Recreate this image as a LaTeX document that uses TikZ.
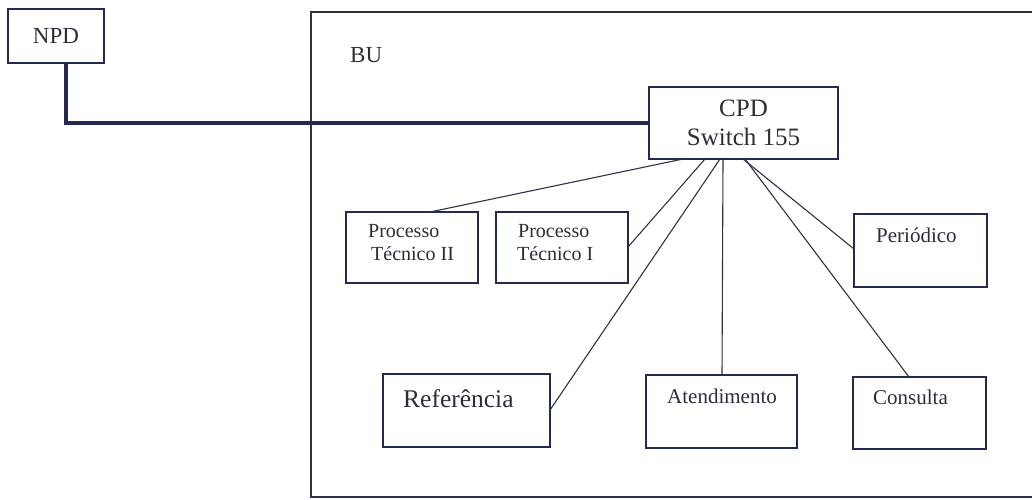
\documentclass[tikz,border=0pt]{standalone}
\usepackage{fontspec}
\setmainfont{Liberation Serif}
\usetikzlibrary{calc}
\definecolor{boxc}{RGB}{35,42,78}
\definecolor{linec}{RGB}{45,50,72}
\definecolor{txtc}{RGB}{45,45,58}
\newcommand\fsz[1]{\fontsize{#1}{#1}\selectfont}
\begin{document}
\begin{tikzpicture}[x=1pt,y=-1pt,
  box/.style={draw=boxc, line width=1.6pt, inner sep=0pt, outer sep=0pt, anchor=north west, text=txtc},
  txt/.style={inner sep=0pt, anchor=base west, text=txtc},
  link/.style={draw=linec, line width=1.1pt},
  trunk/.style={draw=boxc, line width=4.5pt}]
\useasboundingbox (0,0) rectangle (1032,499);
\begin{scope}
  \clip (0,0) rectangle (1032,499);
  \node[box, draw=linec, line width=1.4pt, minimum width=734pt, minimum height=485pt] (bu) at (311,12) {};
\end{scope}
\node[txt, font=\fsz{23}] (butxt) at (350,62) {BU};

\node[box, minimum width=96pt, minimum height=54pt, font=\fsz{23}] (npd) at (8,9) {NPD};
\node[box, minimum width=189pt, minimum height=72pt, align=center, font=\fontsize{25}{29}\selectfont] (cpd) at (649,87) {CPD\\Switch 155};

\node[box, minimum width=132pt, minimum height=71pt] (ptii) at (346,212) {};
\node[box, minimum width=132pt, minimum height=71pt] (pti) at (496,212) {};
\node[box, minimum width=133pt, minimum height=73pt] (per) at (854,214) {};
\node[box, minimum width=167pt, minimum height=73pt] (ref) at (383,374) {};
\node[box, minimum width=151pt, minimum height=73pt] (at) at (646,375) {};
\node[box, minimum width=133pt, minimum height=72pt] (con) at (853,377) {};

\node[txt, font=\fsz{20}] (ptiia) at (368,237) {Processo};
\node[txt, font=\fsz{20}] (ptiib) at (371,260) {Técnico II};
\node[txt, font=\fsz{20}] (ptia) at (518,237) {Processo};
\node[txt, font=\fsz{20}] (ptib) at (517,260) {Técnico I};
\node[txt, font=\fsz{21}] (pertxt) at (876,242) {Periódico};
\node[txt, font=\fsz{25.5}] (reftxt) at (403,407) {Referência};
\node[txt, font=\fsz{21}] (attxt) at (667,403) {Atendimento};
\node[txt, font=\fsz{21}] (contxt) at (873,404) {Consulta};

\draw[trunk] ($(npd.south west)+(58,0)$) |- (cpd.west);

\draw[link] ($(cpd.south west)+(34,0)$) -- ($(ptii.north west)+(84,0)$);
\draw[link] ($(cpd.south west)+(56,0)$) -- ($(pti.north east)+(0,35)$);
\draw[link] ($(cpd.south west)+(71,0)$) -- ($(ref.north east)+(0,36)$);
\draw[link] ($(cpd.south west)+(74,0)$) -- ($(at.north west)+(76,0)$);
\draw[link] ($(cpd.south west)+(94,0)$) -- ($(per.north west)+(0,35)$);
\draw[link] ($(cpd.south west)+(96,0)$) -- ($(con.north west)+(56,0)$);
\end{tikzpicture}
\end{document}
